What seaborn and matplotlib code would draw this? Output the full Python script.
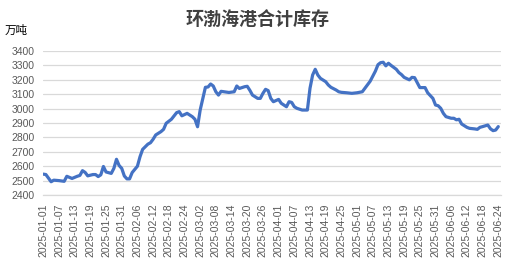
import matplotlib
matplotlib.use("Agg")
import matplotlib.pyplot as plt
import matplotlib.dates as mdates
import seaborn as sns
import pandas as pd

dates = [
    "2025-01-01", "2025-01-02", "2025-01-04", "2025-01-05", "2025-01-07", "2025-01-09", "2025-01-10",
    "2025-01-12", "2025-01-14", "2025-01-15", "2025-01-16", "2025-01-17", "2025-01-18", "2025-01-20",
    "2025-01-21", "2025-01-22", "2025-01-23", "2025-01-24", "2025-01-25", "2025-01-27", "2025-01-28",
    "2025-01-29", "2025-01-30", "2025-01-31", "2025-02-01", "2025-02-02", "2025-02-03", "2025-02-04",
    "2025-02-06", "2025-02-07", "2025-02-08", "2025-02-10", "2025-02-11", "2025-02-12", "2025-02-13",
    "2025-02-15", "2025-02-16", "2025-02-17", "2025-02-19", "2025-02-20", "2025-02-21", "2025-02-22",
    "2025-02-23", "2025-02-25", "2025-02-27", "2025-02-28", "2025-03-01", "2025-03-02", "2025-03-04",
    "2025-03-05", "2025-03-06", "2025-03-07", "2025-03-08", "2025-03-09", "2025-03-10", "2025-03-12",
    "2025-03-13", "2025-03-15", "2025-03-16", "2025-03-17", "2025-03-19", "2025-03-20", "2025-03-21",
    "2025-03-22", "2025-03-24", "2025-03-25", "2025-03-26", "2025-03-27", "2025-03-28", "2025-03-29",
    "2025-03-30", "2025-04-01", "2025-04-02", "2025-04-04", "2025-04-05", "2025-04-06", "2025-04-07",
    "2025-04-08", "2025-04-10", "2025-04-12", "2025-04-13", "2025-04-14", "2025-04-15", "2025-04-16",
    "2025-04-17", "2025-04-19", "2025-04-20", "2025-04-21", "2025-04-23", "2025-04-24", "2025-04-25",
    "2025-04-27", "2025-04-29", "2025-05-01", "2025-05-03", "2025-05-04", "2025-05-05", "2025-05-06",
    "2025-05-07", "2025-05-08", "2025-05-09", "2025-05-10", "2025-05-11", "2025-05-12", "2025-05-13",
    "2025-05-14", "2025-05-16", "2025-05-17", "2025-05-18", "2025-05-19", "2025-05-21", "2025-05-22",
    "2025-05-23", "2025-05-24", "2025-05-25", "2025-05-27", "2025-05-28", "2025-05-30", "2025-05-31",
    "2025-06-01", "2025-06-02", "2025-06-03", "2025-06-04", "2025-06-06", "2025-06-07", "2025-06-08",
    "2025-06-09", "2025-06-10", "2025-06-12", "2025-06-13", "2025-06-15", "2025-06-16", "2025-06-17",
    "2025-06-18", "2025-06-20", "2025-06-21", "2025-06-22", "2025-06-23", "2025-06-24",
]
inventory = [
    2545, 2542, 2492, 2503, 2500, 2495, 2530,
    2515, 2530, 2536, 2569, 2557, 2533, 2542,
    2542, 2528, 2540, 2598, 2560, 2550, 2585,
    2648, 2605, 2585, 2532, 2512, 2512, 2556,
    2600, 2666, 2717, 2753, 2763, 2787, 2817,
    2840, 2856, 2898, 2926, 2949, 2972, 2979,
    2950, 2967, 2944, 2926, 2874, 2990, 3148,
    3150, 3171, 3157, 3117, 3094, 3120, 3115,
    3112, 3117, 3157, 3140, 3152, 3155, 3127,
    3094, 3071, 3071, 3106, 3134, 3125, 3071,
    3048, 3064, 3037, 3013, 3048, 3043, 3013,
    3002, 2990, 2990, 3141, 3233, 3273, 3233,
    3210, 3187, 3164, 3148, 3129, 3117, 3113,
    3110, 3106, 3110, 3117, 3141, 3165, 3190,
    3225, 3260, 3305, 3319, 3322, 3297, 3315,
    3300, 3273, 3250, 3236, 3217, 3200, 3217,
    3215, 3180, 3146, 3146, 3110, 3071, 3025,
    3020, 3002, 2967, 2944, 2933, 2933, 2922,
    2926, 2893, 2870, 2863, 2859, 2856, 2870,
    2875, 2886, 2860, 2847, 2851, 2875,
]
y_ticks = [2400, 2500, 2600, 2700, 2800, 2900, 3000, 3100, 3200, 3300, 3400]
title = "环渤海港合计库存"
unit = "万吨"

df = pd.DataFrame({"date": pd.to_datetime(dates), "value": inventory})

sns.set_theme(style="white")
plt.rcParams["font.family"] = ["Liberation Sans", "Noto Sans CJK SC", "DejaVu Sans"]

fig = plt.figure(figsize=(5.16, 2.75), dpi=100)
ax = fig.add_axes([0.0828, 0.2909, 0.9703 - 0.0828, 0.8145 - 0.2909])

sns.lineplot(data=df, x="date", y="value", ax=ax, color="#4472C4", linewidth=2.3)

start = pd.Timestamp("2025-01-01")
end = pd.Timestamp("2025-06-24")
ax.set_xlim(start - pd.Timedelta(hours=5), end + pd.Timedelta(hours=22))
ax.set_ylim(2400, 3400)
ax.set_yticks(y_ticks)
ax.set_yticklabels([str(v) for v in y_ticks])
ticks = pd.date_range(start, end, freq="6D")
ax.set_xticks(ticks)
ax.set_xticklabels([t.strftime("%Y-%m-%d") for t in ticks], rotation=90)

ax.grid(axis="y", color="#D9D9D9", linewidth=0.9)
ax.grid(axis="x", visible=False)
for s in ["top", "right", "left"]:
    ax.spines[s].set_visible(False)
ax.spines["bottom"].set_color("#D9D9D9")
ax.spines["bottom"].set_linewidth(0.9)
ax.tick_params(axis="both", length=0, labelsize=7.5, colors="#595959")
ax.tick_params(axis="x", pad=6)
ax.tick_params(axis="y", pad=6)
ax.set_xlabel("")
ax.set_ylabel("")

fig.text(0.5, 0.927, title, ha="center", va="center", fontsize=13,
         fontweight="bold", color="#404040", family=["Noto Sans CJK SC", "DejaVu Sans"])
fig.text(0.009, 0.891, unit, ha="left", va="center", fontsize=8.3,
         color="#000000", family=["Noto Sans CJK SC", "DejaVu Sans"])

fig.savefig("out.png", dpi=100)
